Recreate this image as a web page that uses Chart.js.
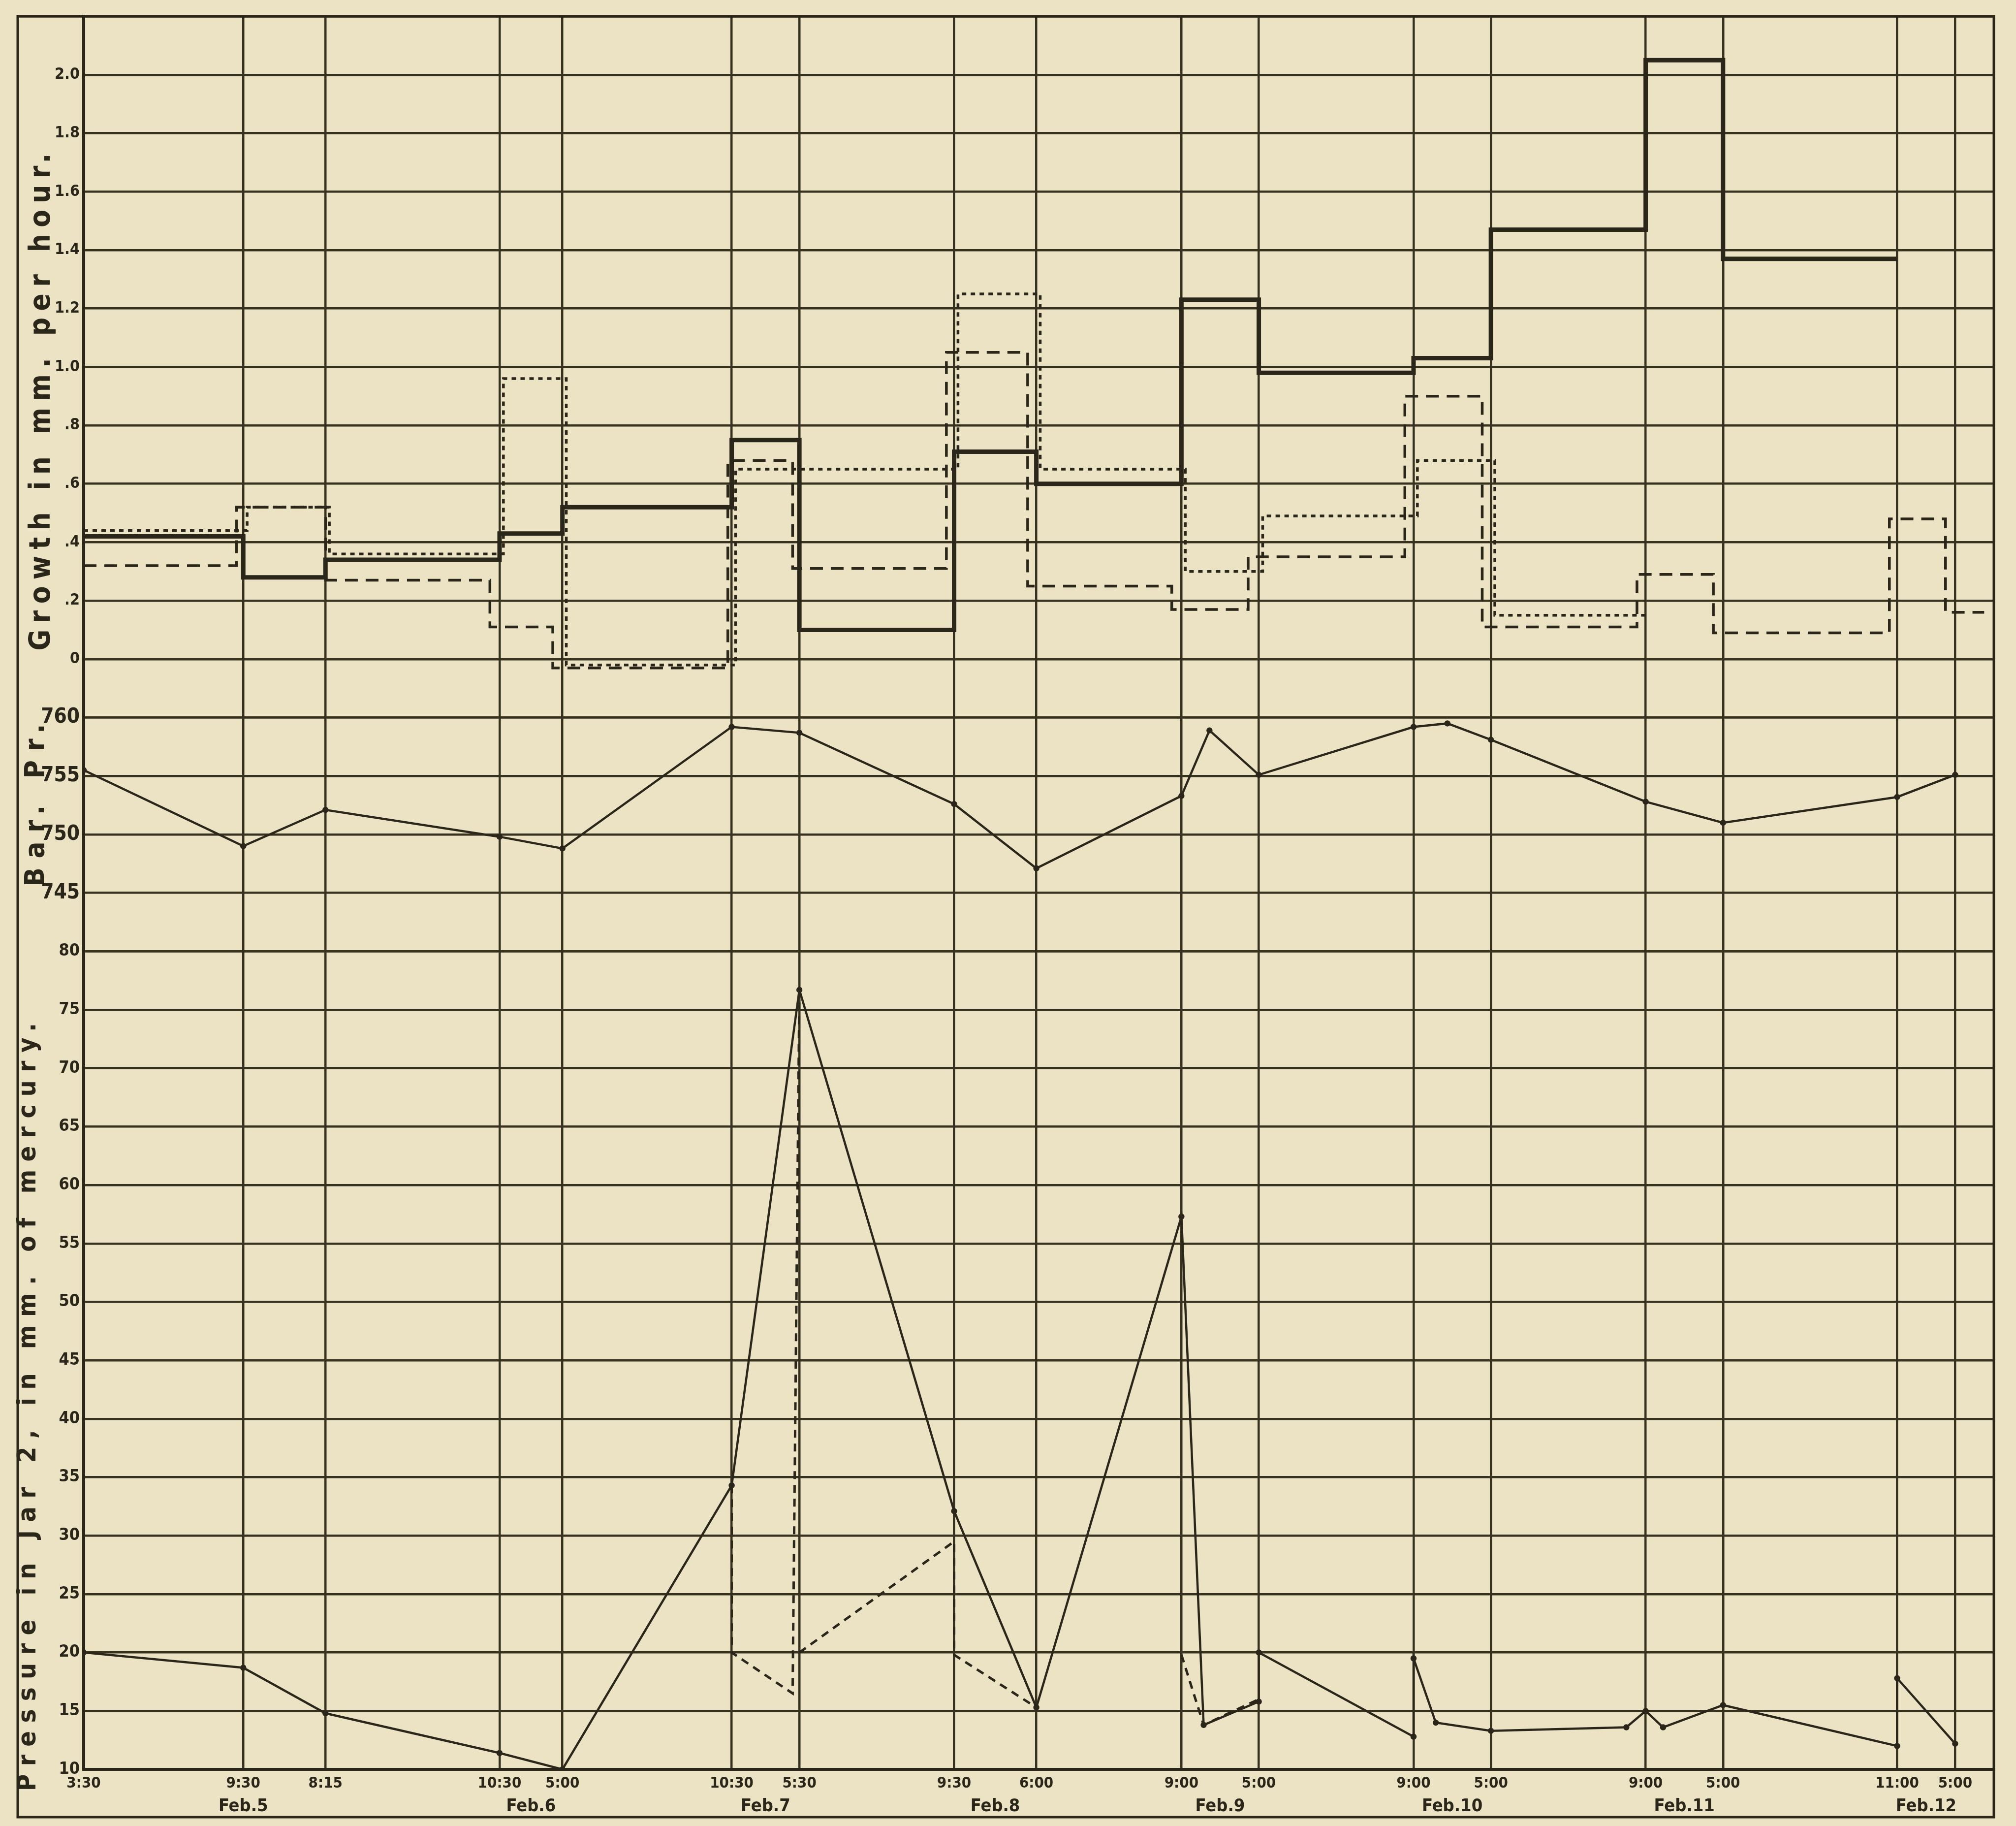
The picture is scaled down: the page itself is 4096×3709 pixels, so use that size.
<!DOCTYPE html>
<html>
<head>
<meta charset="utf-8">
<script src="https://cdn.jsdelivr.net/npm/chart.js@4.4.1/dist/chart.umd.min.js"></script>
<style>
  html, body { margin: 0; padding: 0; background: #ebe3c4; }
  canvas { display: block; }
</style>
</head>
<body>
<canvas id="growth-chart" width="4096" height="3709"></canvas>
<script>
// hours after 3:30 on Feb. 4
var tickHours = [0, 16.5, 25, 43, 49.5, 67, 74, 90, 98.5, 113.5, 121.5, 137.5, 145.5, 161.5, 169.5, 187.5, 193.5];
var tickTimes = ['3:30', '9:30', '8:15', '10:30', '5:00', '10:30', '5:30', '9:30', '6:00', '9:00', '5:00', '9:00', '5:00', '9:00', '5:00', '11:00', '5:00'];
var dateLabels = ['Feb.5', 'Feb.6', 'Feb.7', 'Feb.8', 'Feb.9', 'Feb.10', 'Feb.11', 'Feb.12'];
var dateTickSpan = [[1, 1], [3, 4], [5, 6], [7, 8], [9, 10], [11, 12], [13, 14], [15, 16]];

var axisTitles = ['Growth in mm. per hour.', 'Bar. Pr.', 'Pressure in Jar 2, in mm. of mercury.'];

// growth in mm per hour (step lines)
var solidHours  = [0, 16.5, 25, 43, 49.5, 67, 74, 90, 98.5, 113.5, 121.5, 137.5, 145.5, 161.5, 169.5, 187.5];
var solidGrowth = [0.42, 0.28, 0.34, 0.43, 0.52, 0.75, 0.10, 0.71, 0.60, 1.23, 0.98, 1.03, 1.47, 2.05, 1.37, 1.37];

var dottedHours  = [0, 16.9, 25.4, 43.4, 49.9, 67.4, 90.4, 98.9, 113.9, 121.9, 137.9, 145.9, 161.5];
var dottedGrowth = [0.44, 0.52, 0.36, 0.96, -0.02, 0.65, 1.25, 0.65, 0.30, 0.49, 0.68, 0.15, 0.15];

var dashedHours  = [0, 15.8, 25, 42, 48.5, 66.6, 73.3, 89.2, 97.6, 112.5, 120.4, 136.6, 144.6, 160.6, 168.5, 186.7, 192.5, 196.5];
var dashedGrowth = [0.32, 0.52, 0.27, 0.11, -0.03, 0.68, 0.31, 1.05, 0.25, 0.17, 0.35, 0.90, 0.11, 0.29, 0.09, 0.48, 0.16, 0.16];

// barometric pressure, mm
var baroHours  = [0, 16.5, 25, 43, 49.5, 67, 74, 90, 98.5, 113.5, 116.4, 121.5, 137.5, 141, 145.5, 161.5, 169.5, 187.5, 193.5];
var baroValues = [755.5, 749.0, 752.1, 749.8, 748.8, 759.2, 758.7, 752.6, 747.1, 753.3, 758.9, 755.1, 759.2, 759.5, 758.1, 752.8, 751.0, 753.2, 755.1];

// pressure in jar 2, mm of mercury
var pressHours  = [0, 16.5, 25, 43, 49.5, 67, 74, 90, 98.5, 113.5, 115.8, 121.5, 121.5, 137.5, 137.5, 139.8, 145.5, 159.5, 161.5, 163.3, 169.5, 187.5, 187.5, 193.5];
var pressValues = [20.0, 18.7, 14.8, 11.4, 10.0, 34.3, 76.7, 32.1, 15.3, 57.3, 13.8, 15.8, 20.0, 12.8, 19.5, 14.0, 13.3, 13.6, 15.0, 13.6, 15.5, 12.0, 17.8, 12.2];

var pressDashHours  = [67, 67, 73.3, 74, 74, 74, 90, 90, 98.5, 98.5, 113.5, 115.8, 121.5];
var pressDashValues = [34.3, 20.0, 16.5, 76.7, null, 20.0, 29.5, 19.8, 15.3, null, 19.8, 13.8, 16.0];

// tick labels
var growthTicks  = [-0.2, 0, 0.2, 0.4, 0.6, 0.8, 1.0, 1.2, 1.4, 1.6, 1.8, 2.0, 2.2];
var growthLabels = ['', '0', '.2', '.4', '.6', '.8', '1.0', '1.2', '1.4', '1.6', '1.8', '2.0', ''];
var baroTicks  = [740, 745, 750, 755, 760];
var baroLabels = ['', '745', '750', '755', '760'];
var pressTicks  = [10, 15, 20, 25, 30, 35, 40, 45, 50, 55, 60, 65, 70, 75, 80];
var pressLabels = ['10', '15', '20', '25', '30', '35', '40', '45', '50', '55', '60', '65', '70', '75', '80'];

var PAPER = '#ebe3c4';
var INK = '#2a2619';
var GRID = '#37321f';
var FONT = '"Liberation Sans Narrow", "DejaVu Sans Condensed", "Liberation Sans", sans-serif';

function points(xs, ys) {
    return xs.map(function(x, i){ return {x: x, y: ys[i]}; });
}

function fixedTicks(list) {
    return function(scale){
        scale.ticks = list.map(function(v){ return {value: v}; });
    };
}

function drawTitle(ctx, text, x, y, length, size) {
    ctx.save();
    ctx.translate(x, y);
    ctx.rotate(-Math.PI / 2);
    ctx.font = 'bold ' + size + 'px ' + FONT;
    ctx.letterSpacing = '0px';
    var w = ctx.measureText(text).width;
    var gap = Math.max(0, (length - w) / (text.length - 1));
    ctx.letterSpacing = gap + 'px';
    ctx.textAlign = 'center';
    ctx.textBaseline = 'middle';
    ctx.fillStyle = INK;
    ctx.fillText(text, gap / 2, 0);
    ctx.restore();
}

const sheetDecor = {
    id: 'sheetDecor',
    beforeDraw(chart) {
        const ctx = chart.ctx;
        ctx.save();
        ctx.fillStyle = PAPER;
        ctx.fillRect(0, 0, chart.width, chart.height);
        ctx.restore();
    },
    afterDraw(chart) {
        const {ctx, chartArea: {top, bottom, right}, scales} = chart;
        ctx.save();
        // outer frame of the sheet
        ctx.strokeStyle = INK;
        ctx.lineWidth = 5;
        ctx.strokeRect(36, top, right - 36, 3691 - top);

        drawTitle(ctx, axisTitles[0], 86, scales.yG.getPixelForValue(0.88), 1010, 58);
        drawTitle(ctx, axisTitles[1], 74, scales.yB.getPixelForValue(752.5), 330, 56);
        drawTitle(ctx, axisTitles[2], 58, scales.yP.getPixelForValue(41), 1560, 52);

        // day names under the clock times
        ctx.font = 'bold 36px ' + FONT;
        ctx.fillStyle = INK;
        ctx.textAlign = 'center';
        ctx.textBaseline = 'middle';
        dateLabels.forEach(function(d, i){
            const a = scales.x.getPixelForValue(tickHours[dateTickSpan[i][0]]);
            const b = scales.x.getPixelForValue(tickHours[dateTickSpan[i][1]]);
            ctx.fillText(d, (a + b) / 2, bottom + 76);
        });
        ctx.restore();
    }
};

var stepBase = {
    stepped: 'before',
    pointRadius: 0,
    borderColor: INK,
    fill: false,
    tension: 0
};

var chartData = {
    datasets: [
        Object.assign({label: 'growth solid', data: points(solidHours, solidGrowth), borderWidth: 9, yAxisID: 'yG'}, stepBase),
        Object.assign({label: 'growth dotted', data: points(dottedHours, dottedGrowth), borderWidth: 5.5, borderDash: [9, 9], yAxisID: 'yG'}, stepBase),
        Object.assign({label: 'growth dashed', data: points(dashedHours, dashedGrowth), borderWidth: 5.5, borderDash: [26, 16], yAxisID: 'yG'}, stepBase),
        {
            label: 'Bar. Pr.',
            data: points(baroHours, baroValues),
            yAxisID: 'yB',
            borderColor: INK,
            backgroundColor: INK,
            borderWidth: 4.5,
            pointRadius: 4,
            tension: 0
        },
        {
            label: 'Jar 2',
            data: points(pressHours, pressValues),
            yAxisID: 'yP',
            borderColor: INK,
            backgroundColor: INK,
            borderWidth: 4.5,
            pointRadius: 4,
            tension: 0
        },
        {
            label: 'Jar 2 dashed',
            data: points(pressDashHours, pressDashValues),
            yAxisID: 'yP',
            borderColor: INK,
            borderWidth: 5,
            borderDash: [16, 12],
            pointRadius: 0,
            spanGaps: false,
            tension: 0
        }
    ]
};

function yScale(min, max, weight, ticks, labels, size) {
    return {
        type: 'linear',
        position: 'left',
        stack: 'sheet',
        stackWeight: weight,
        min: min,
        max: max,
        afterBuildTicks: fixedTicks(ticks),
        afterFit: function(scale){ scale.width = 150; },
        grid: { color: GRID, lineWidth: 4.5, drawTicks: false },
        border: { display: true, color: INK, width: 6 },
        ticks: {
            autoSkip: false,
            padding: 8,
            color: INK,
            font: { family: FONT, size: size, weight: 'bold' },
            callback: function(value, index){ return labels[index]; }
        }
    };
}

var chartOptions = {
    responsive: false,
    devicePixelRatio: 1,
    animation: false,
    layout: {
        autoPadding: false,
        padding: { left: 20, top: 21, right: 45, bottom: 5 }
    },
    plugins: {
        legend: { display: false },
        tooltip: { enabled: false }
    },
    scales: {
        x: {
            type: 'linear',
            position: 'bottom',
            min: 0,
            max: 197.5,
            afterBuildTicks: fixedTicks(tickHours),
            afterFit: function(scale){ scale.height = 110; },
            grid: { color: GRID, lineWidth: 4.5, drawTicks: false },
            border: { display: true, color: INK, width: 6 },
            ticks: {
                autoSkip: false,
                maxRotation: 0,
                padding: 10,
                color: INK,
                font: { family: FONT, size: 31, weight: 'bold' },
                callback: function(value, index){ return tickTimes[index]; }
            }
        },
        yP: yScale(10, 80, 14, pressTicks, pressLabels, 34),
        yB: yScale(740, 760, 4, baroTicks, baroLabels, 42),
        yG: yScale(-0.2, 2.2, 12, growthTicks, growthLabels, 32)
    }
};

var ctx = document.getElementById('growth-chart');
var growthChart = new Chart(ctx, {
    type: 'line',
    data: chartData,
    options: chartOptions,
    plugins: [sheetDecor]
});
</script>
</body>
</html>
